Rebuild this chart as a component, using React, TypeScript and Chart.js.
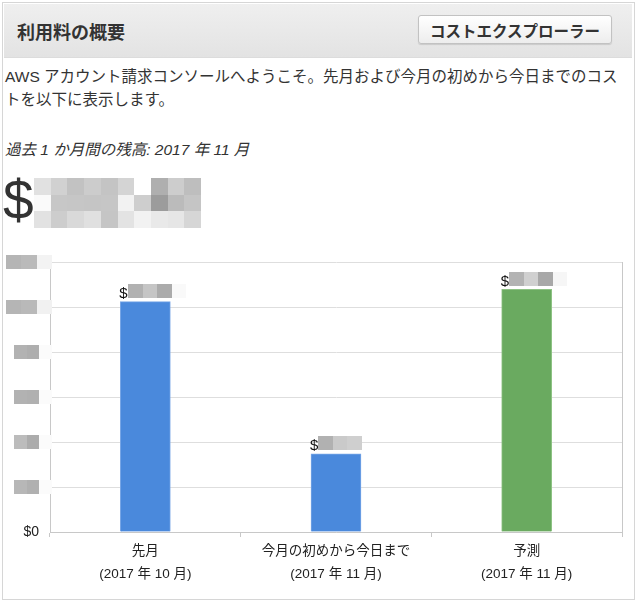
import React, { useEffect, useRef } from "react";
import { Chart, registerables } from "chart.js";

Chart.register(...registerables);

// ---- data ----
const categories: string[][] = [
  ["先月", "(2017 年 10 月)"],
  ["今月の初めから今日まで", "(2017 年 11 月)"],
  ["予測", "(2017 年 11 月)"],
];
const costValues: number[] = [102.4, 34.7, 107.9];
const barColors: string[] = ["#4a89dc", "#4a89dc", "#6aaa60"];
const barEdgeColors: string[] = ["#78a6e6", "#78a6e6", "#8dc283"];
const yTickValues: number[] = [0, 20, 40, 60, 80, 100, 120];
const balanceValue: number = costValues[0];

const FONT = '"Liberation Sans", "Noto Sans CJK JP", Arial, sans-serif';

function pixelate(
  ctx: CanvasRenderingContext2D,
  x: number,
  y: number,
  w: number,
  h: number,
  cols: number,
  rows: number
) {
  let X = Math.round(x);
  const Y = Math.round(y);
  let W = Math.round(w);
  const H = Math.round(h);
  if (X < 0) {
    W += X;
    X = 0;
  }
  if (W <= 0 || H <= 0) return;
  const img = ctx.getImageData(X, Y, W, H);
  const d = img.data;
  for (let r = 0; r < rows; r++) {
    const y0 = Math.round((r * H) / rows);
    const y1 = Math.round(((r + 1) * H) / rows);
    for (let c = 0; c < cols; c++) {
      const x0 = Math.round((c * W) / cols);
      const x1 = Math.round(((c + 1) * W) / cols);
      let sr = 0, sg = 0, sb = 0, n = 0;
      for (let yy = y0; yy < y1; yy++) {
        for (let xx = x0; xx < x1; xx++) {
          const i = (yy * W + xx) * 4;
          sr += d[i];
          sg += d[i + 1];
          sb += d[i + 2];
          n++;
        }
      }
      if (!n) continue;
      sr /= n; sg /= n; sb /= n;
      for (let yy = y0; yy < y1; yy++) {
        for (let xx = x0; xx < x1; xx++) {
          const i = (yy * W + xx) * 4;
          d[i] = sr;
          d[i + 1] = sg;
          d[i + 2] = sb;
          d[i + 3] = 255;
        }
      }
    }
  }
  ctx.putImageData(img, X, Y);
}

function MosaicNumber(props: { text: string }) {
  const ref = useRef<HTMLCanvasElement | null>(null);
  useEffect(() => {
    const cv = ref.current;
    if (!cv) return;
    const ctx = cv.getContext("2d");
    if (!ctx) return;
    ctx.fillStyle = "#fff";
    ctx.fillRect(0, 0, cv.width, cv.height);
    ctx.fillStyle = "#333";
    ctx.font = `54px ${FONT}`;
    ctx.textBaseline = "alphabetic";
    ctx.fillText(props.text, 3, 40);
    pixelate(ctx, 0, 0, cv.width, cv.height, 10, 3);
  }, [props.text]);
  return (
    <canvas
      ref={ref}
      width={167}
      height={50}
      style={{ position: "absolute", left: 34, top: 178 }}
    />
  );
}

function CostChart() {
  const ref = useRef<HTMLCanvasElement | null>(null);
  useEffect(() => {
    const cv = ref.current;
    if (!cv) return;
    const regions: { x: number; y: number; w: number; h: number; cols: number }[] = [];

    const whiteBg = {
      id: "whiteBg",
      beforeDraw(chart: any) {
        const c = chart.ctx;
        c.save();
        c.fillStyle = "#fff";
        c.fillRect(0, 0, chart.width, chart.height);
        c.restore();
      },
    };

    const valueLabels = {
      id: "valueLabels",
      afterDatasetsDraw(chart: any) {
        const ctx = chart.ctx as CanvasRenderingContext2D;
        const meta = chart.getDatasetMeta(0);
        regions.length = 0;
        meta.data.forEach((el: any, i: number) => {
          const p = el.getProps(["x", "y", "width"], true);
          const left = p.x - p.width / 2 - 1;
          const base = p.y - 3.5;
          ctx.save();
          ctx.textAlign = "left";
          ctx.textBaseline = "alphabetic";
          ctx.fillStyle = "#111";
          ctx.font = `15px ${FONT}`;
          ctx.fillText("$", left, base);
          const dw = ctx.measureText("$").width;
          ctx.font = `bold 15px ${FONT}`;
          const txt = costValues[i].toFixed(2);
          ctx.fillText(txt, left + dw, base);
          const vw = ctx.measureText(txt).width;
          ctx.restore();
          const cols = Math.max(1, Math.round((vw + 8) / 14.5));
          regions.push({ x: left + dw, y: base - 14, w: cols * 14.5, h: 14, cols });
        });
      },
      afterDraw(chart: any) {
        const ctx = chart.ctx as CanvasRenderingContext2D;
        const area = chart.chartArea;
        // right frame line
        ctx.save();
        ctx.strokeStyle = "#c8c8c8";
        ctx.lineWidth = 1;
        ctx.beginPath();
        const rx = Math.round(area.right) + 0.5;
        ctx.moveTo(rx, area.top);
        ctx.lineTo(rx, area.bottom);
        ctx.stroke();
        ctx.restore();
        // mosaic on y tick labels
        const ys = chart.scales.y;
        ctx.save();
        ctx.font = `bold 14px ${FONT}`;
        ys.ticks.forEach((t: any) => {
          if (t.value === 0) return;
          const py = ys.getPixelForValue(t.value);
          const w = ctx.measureText("$" + t.value).width;
          const right = area.left + 2;
          const left = Math.max(0, area.left - 11 - w - 2);
          const W = right - left;
          const cols = Math.max(1, Math.round(W / 14));
          pixelate(ctx, left, py - 7, W, 14, cols, 1);
        });
        ctx.restore();
        regions.forEach((r) => pixelate(ctx, r.x, r.y, r.w, r.h, r.cols, 1));
      },
    };

    const chart = new Chart(cv, {
      type: "bar",
      data: {
        labels: categories,
        datasets: [
          {
            data: costValues,
            backgroundColor: barColors,
            borderColor: barEdgeColors,
            borderWidth: 1,
            barThickness: 50,
          },
        ],
      },
      options: {
        animation: false,
        responsive: true,
        maintainAspectRatio: false,
        layout: { padding: { top: 22, right: 11, left: 0, bottom: 0 } },
        plugins: { legend: { display: false }, tooltip: { enabled: false } },
        scales: {
          x: {
            grid: {
              offset: true,
              drawOnChartArea: false,
              drawTicks: true,
              tickLength: 5,
              color: "#c8c8c8",
            },
            border: { color: "#c8c8c8" },
            ticks: {
              color: "#222",
              font: { family: FONT, size: 13.5, lineHeight: 1.7 },
              padding: 3,
              maxRotation: 0,
              autoSkip: false,
            },
            afterFit: (s: any) => {
              s.height = 65;
            },
          },
          y: {
            min: yTickValues[0],
            max: yTickValues[yTickValues.length - 1],
            afterBuildTicks: (s: any) => {
              s.ticks = yTickValues.map((v) => ({ value: v }));
            },
            ticks: {
              color: "#222",
              font: (c: any) => ({
                family: FONT,
                size: 14,
                weight: c.tick && c.tick.value !== 0 ? "bold" : "normal",
              }),
              padding: 11,
              callback: (v: any) => "$" + v,
            },
            grid: { color: "#dedede", drawTicks: false },
            border: { color: "#c8c8c8" },
            afterFit: (s: any) => {
              s.width = 47;
            },
          },
        },
      },
      plugins: [whiteBg, valueLabels],
    } as any);
    return () => chart.destroy();
  }, []);
  return (
    <div style={{ position: "absolute", left: 3, top: 240, width: 630, height: 357 }}>
      <canvas ref={ref} />
    </div>
  );
}

export default function App() {
  return (
    <div
      style={{
        position: "absolute",
        left: 0,
        top: 0,
        width: 640,
        height: 600,
        background: "#fff",
        fontFamily: FONT,
        color: "#333",
        overflow: "hidden",
      }}
    >
      {/* panel border */}
      <div
        style={{
          position: "absolute",
          left: 2,
          top: 2,
          width: 633,
          height: 598,
          boxSizing: "border-box",
          border: "1px solid #d6d6d6",
        }}
      />
      {/* header */}
      <div
        style={{
          position: "absolute",
          left: 4,
          top: 4,
          width: 628,
          height: 53,
          background: "linear-gradient(to bottom, #efefef, #e3e3e3)",
          borderBottom: "1px solid #dcdcdc",
          display: "flex",
          alignItems: "center",
        }}
      >
        <span style={{ marginLeft: 13, fontSize: 18, fontWeight: "bold", color: "#333" }}>
          利用料の概要
        </span>
      </div>
      <div
        style={{
          position: "absolute",
          left: 418,
          top: 15,
          width: 194,
          height: 29,
          boxSizing: "border-box",
          border: "1px solid #c2c2c2",
          borderRadius: 3,
          background: "linear-gradient(to bottom, #ffffff, #ededed)",
          boxShadow: "0 1px 1px rgba(0,0,0,0.12)",
          display: "flex",
          alignItems: "center",
          justifyContent: "center",
          fontSize: 15.5,
          fontWeight: "bold",
          color: "#333",
        }}
      >
        コストエクスプローラー
      </div>
      {/* intro */}
      <div
        style={{
          position: "absolute",
          left: 5,
          top: 65,
          fontSize: 15.5,
          lineHeight: "23px",
          whiteSpace: "nowrap",
          color: "#333",
        }}
      >
        AWS アカウント請求コンソールへようこそ。先月および今月の初めから今日までのコス
        <br />
        トを以下に表示します。
      </div>
      <div
        style={{
          position: "absolute",
          left: 5,
          top: 138,
          fontSize: 15.5,
          lineHeight: "23px",
          fontStyle: "italic",
          whiteSpace: "nowrap",
          color: "#333",
        }}
      >
        過去 1 か月間の残高: 2017 年 11 月
      </div>
      <div
        style={{
          position: "absolute",
          left: 3,
          top: 173,
          fontSize: 55,
          lineHeight: "55px",
          color: "#333",
        }}
      >
        $
      </div>
      <MosaicNumber text={balanceValue.toFixed(2)} />
      <CostChart />
    </div>
  );
}
